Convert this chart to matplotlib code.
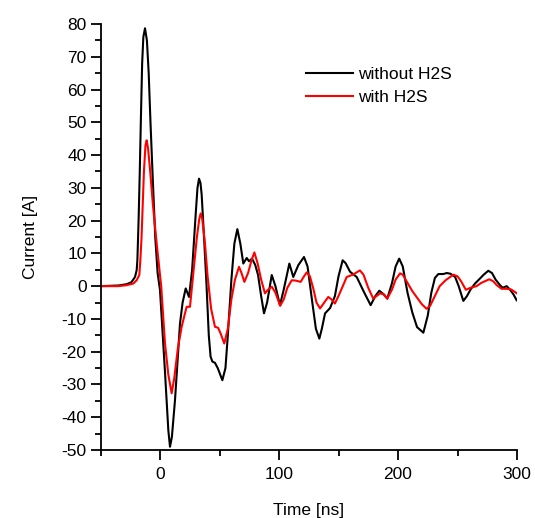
import matplotlib
matplotlib.use("Agg")
import matplotlib.pyplot as plt
from matplotlib.ticker import MultipleLocator

plt.rcParams['font.family'] = ['Liberation Sans', 'DejaVu Sans']
plt.rcParams['axes.unicode_minus'] = False

# without H2S (black)
t_black = [-50, -35, -28, -24, -21, -19.6, -19, -18, -17, -16, -15, -14, -12.6, -11, -9.5, -8, -6, -4, -2, 0,
           4, 7, 8.4, 10, 12.6, 16.8, 19, 21.6, 24.4, 27, 30, 31.5, 32.8, 34, 35, 37, 39, 41, 42.5, 44,
           46.2, 48.5, 52.4, 55, 57, 60, 62.5, 65, 67.5, 70, 72.9, 74.8, 77.3, 80, 82.4, 85, 87.4, 90, 93.9,
           97, 100.8, 104, 108.7, 112, 116.2, 121, 124, 128, 131, 133.9, 136, 138.7, 142.9, 147, 150, 153.5,
           156, 159.7, 165.3, 171, 177, 181, 184.3, 188, 191, 195, 198, 201, 204, 208, 212, 216, 221.3, 225,
           228, 231, 233.9, 238, 241, 244, 248, 251, 254.9, 258, 261, 264.7, 268, 272, 275.9, 279, 282,
           285.7, 288, 291.3, 294, 297, 299.7]
i_black = [0, 0.2, 0.6, 1.2, 2.8, 4.9, 8, 20, 35, 52, 68, 76, 78.7, 75, 65, 50, 32, 15, 4, -1.2,
           -25, -44, -49, -46, -34.8, -11.4, -5, -0.7, -3.3, 5, 22, 30, 32.8, 31.5, 28, 15, 1, -15, -21.5, -23,
           -23.4, -25, -28.7, -25, -15, 2, 13, 17.4, 13, 6.9, 8.6, 7.6, 8.4, 6.5, 3.4, -3, -8.3, -5, 3.4,
           0, -5.8, -1, 6.9, 2.8, 6.4, 8.9, 6, -5, -13, -16, -13, -8.3, -6.7, -3, 3, 7.9,
           7, 4.4, 2.8, -1.5, -5.8, -3, -1.4, -2.5, -3.8, 1, 6, 8.4, 6, -2, -8, -12.5, -14.2, -9,
           -2, 2.5, 3.7, 3.7, 4, 3.8, 2.8, 0, -4.5, -3, -1, 0.8, 2, 3.5, 4.7, 4, 2,
           0.3, -0.5, 0, -1, -2.5, -4.3]

# with H2S (red)
t_red = [-50, -35, -28, -22.4, -19.6, -17.4, -16.5, -15.5, -14.5, -13.5, -12.2, -11.2, -10, -8, -6, -2.8, 1,
         4.2, 7, 9.8, 12, 15, 18.2, 20.5, 22.4, 25.2, 28, 31, 33, 34.2, 35.5, 37.8, 40, 43, 46.2, 48.8, 51,
         54, 57, 60, 63, 66.4, 68.5, 70.9, 74, 77, 79.3, 82, 85, 88.2, 91, 94, 97, 101, 104, 107, 110.7,
         114, 118.2, 121, 123.3, 126, 129, 131.5, 134.5, 138, 141.4, 144, 147, 150, 153, 156.9, 162, 168,
         171, 175, 179.2, 184.9, 188, 191, 195, 198, 201.7, 204, 208, 212, 216, 220, 224, 227, 231, 235,
         240, 246.5, 250, 253, 257, 261, 266, 270, 276.7, 280, 283, 287, 291, 295, 300]
i_red = [0, 0, 0.3, 0.8, 1.8, 3.4, 8, 15, 25, 35, 43, 44.5, 42, 34, 25, 13, 0,
         -17.5, -27, -32.7, -28, -19, -12.4, -9, -6.3, -6.3, 4, 15, 20.5, 22.2, 20.5, 13, 3, -7, -12.4, -12.7, -14.5,
         -17.5, -13, -4, 2, 5.9, 4, 1.3, 4, 8, 10.3, 7, 2, -2.2, -1, -0.2, -2, -6, -4, -0.5, 1.8,
         1.7, 1.3, 3, 4.2, 3, -1, -5, -6.8, -5, -3.3, -4, -5.3, -3, -0.5, 2.8, 3.5, 4.8,
         3.5, -0.5, -3.8, -2.2, -2.5, -3.8, -1, 2, 3.9, 3.5, 1, -1.5, -3.5, -5.5, -6.9, -6, -3, 0,
         1.8, 3.5, 3, 1.5, -1.1, -0.5, 0, 1, 2.1, 1.5, 0.3, -0.8, -0.8, -1, -2.2]

fig = plt.figure(figsize=(5.35, 5.18), dpi=100)
ax = fig.add_axes([100.5 / 535, 68 / 518, 416.5 / 535, 426 / 518])

ax.plot(t_black, i_black, color='black', lw=1.5, label='without H2S')
ax.plot(t_red, i_red, color='#ff0000', lw=1.5, label='with H2S')

ax.set_xlim(-50, 300)
ax.set_ylim(-50, 80)
ax.xaxis.set_major_locator(MultipleLocator(100))
ax.xaxis.set_minor_locator(MultipleLocator(50))
ax.yaxis.set_major_locator(MultipleLocator(10))
ax.yaxis.set_minor_locator(MultipleLocator(5))
ax.spines['top'].set_visible(False)
ax.spines['right'].set_visible(False)
for s in ('left', 'bottom'):
    ax.spines[s].set_linewidth(1.3)
ax.tick_params(which='major', direction='out', length=7, width=1.3, labelsize=12.5, pad=3)
ax.tick_params(which='minor', direction='out', length=4, width=1.3)
ax.tick_params(axis='x', which='major', pad=5)

ax.set_xlabel('Time [ns]', fontsize=12.5, labelpad=15)
ax.set_ylabel('Current [A]', fontsize=12.5, labelpad=17)

ax.legend(loc='upper left', bbox_to_anchor=(306 / 535, 1 - 67 / 518), bbox_transform=fig.transFigure,
          frameon=False, fontsize=12.5, handlelength=2.7, handletextpad=0.3, labelspacing=0.45,
          borderpad=0, borderaxespad=0)

fig.savefig('out.png', dpi=100)
